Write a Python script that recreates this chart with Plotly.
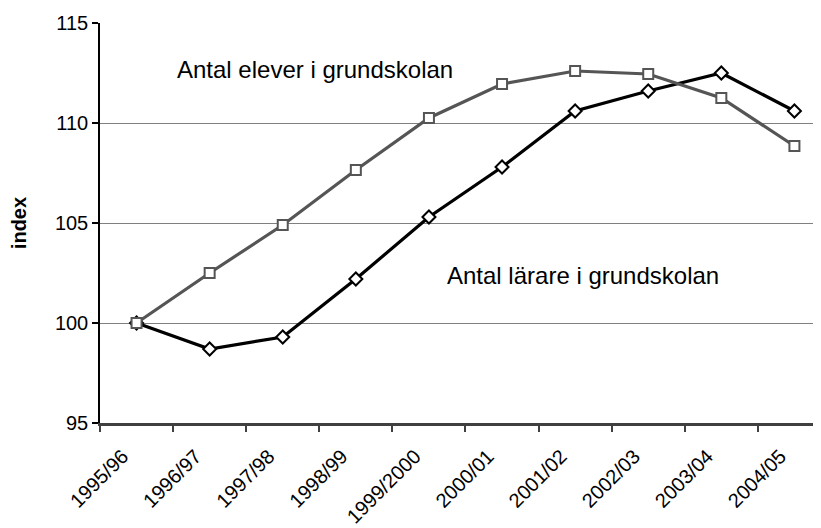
import plotly.graph_objects as go

years = ["1995/96", "1996/97", "1997/98", "1998/99", "1999/2000",
         "2000/01", "2001/02", "2002/03", "2003/04", "2004/05"]
elever = [100.0, 102.5, 104.9, 107.65, 110.25, 111.95, 112.6, 112.45, 111.25, 108.85]
larare = [100.0, 98.7, 99.3, 102.2, 105.3, 107.8, 110.6, 111.6, 112.5, 110.6]
y_ticks = [95, 100, 105, 110, 115]

FONT = "Liberation Sans, Arial, sans-serif"

fig = go.Figure()
fig.add_trace(go.Scatter(
    x=years, y=larare, mode="lines+markers", name="Antal lärare i grundskolan",
    line=dict(color="#000000", width=3.2),
    marker=dict(symbol="diamond", size=10, color="white", line=dict(color="#000000", width=2)),
    showlegend=False))
fig.add_trace(go.Scatter(
    x=years, y=elever, mode="lines+markers", name="Antal elever i grundskolan",
    line=dict(color="#555555", width=3.2),
    marker=dict(symbol="square", size=10, color="white", line=dict(color="#555555", width=2)),
    showlegend=False))

fig.add_annotation(x=0.526, y=112.675, xref="x", yref="y", text="Antal elever i grundskolan",
                   showarrow=False, xanchor="left", yanchor="middle",
                   font=dict(family=FONT, size=24, color="#000000"))
fig.add_annotation(x=4.215, y=102.4, xref="x", yref="y", text="Antal lärare i grundskolan",
                   showarrow=False, xanchor="left", yanchor="middle",
                   font=dict(family=FONT, size=24, color="#000000"))

# page body has an 8px default margin, so offsets compensate for it
fig.update_layout(
    width=821, height=528,
    margin=dict(l=92, r=0, t=15, b=113),
    paper_bgcolor="white", plot_bgcolor="white",
    font=dict(family=FONT, size=20, color="#000000"),
)
fig.update_xaxes(
    type="category", range=[-0.5, 9.473], automargin=False,
    tickson="boundaries", ticks="outside", ticklen=6, tickwidth=1.5, tickcolor="#404040",
    tickangle=-45, tickfont=dict(family=FONT, size=20),
    ticklabelshift=-14, ticklabelstandoff=11,
    showline=True, linecolor="#404040", linewidth=2.5,
    showgrid=False, zeroline=False,
)
fig.update_yaxes(
    range=[95, 115], tickvals=y_ticks, ticktext=[str(v) for v in y_ticks], automargin=False,
    ticks="outside", ticklen=6, tickwidth=1.5, tickcolor="#000000",
    showline=True, linecolor="#000000", linewidth=1.5,
    showgrid=True, gridcolor="#808080", gridwidth=1.2, zeroline=False,
    tickfont=dict(family=FONT, size=20),
    title=dict(text="<b>index</b>", font=dict(family=FONT, size=20), standoff=24),
)

fig.write_html("out.html")
